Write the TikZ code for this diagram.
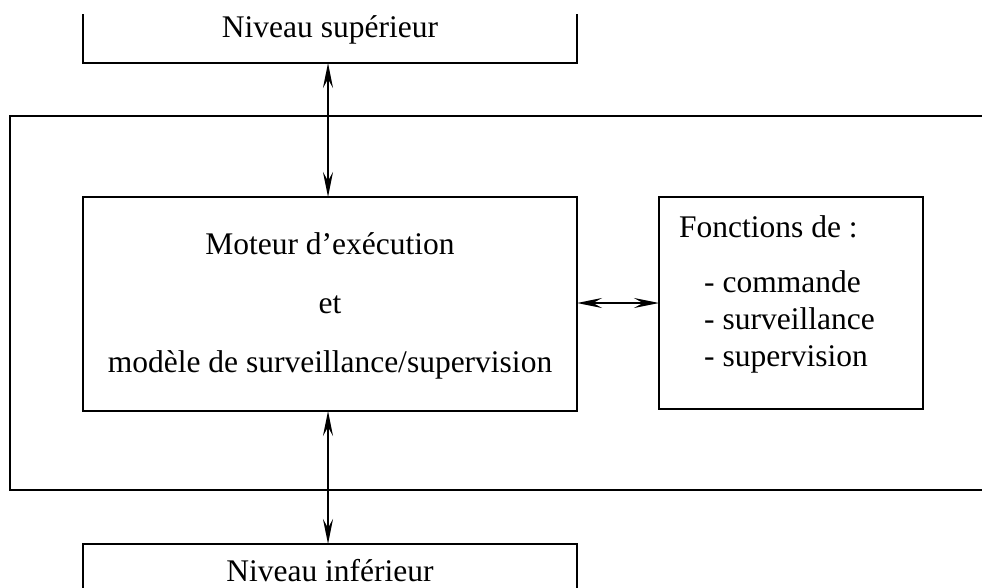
\documentclass[tikz,border=0pt]{standalone}
\usepackage{fontspec}
\setmainfont{Liberation Serif}
\usetikzlibrary{arrows.meta}
\begin{document}
\begin{tikzpicture}[x=1pt,y=-1pt,
  frame/.style={line width=1.8pt, line cap=rect},
  boxnode/.style={draw, line width=1.8pt, inner sep=0pt, outer sep=0pt},
  ghost/.style={inner sep=0pt, outer sep=0pt},
  link/.style={line width=1.6pt,
    {Stealth[length=25pt,width=10pt,inset=9pt]}-{Stealth[length=25pt,width=10pt,inset=9pt]}},
  lbl/.style={inner sep=0pt, font=\fontsize{31.5}{37}\selectfont}]
\useasboundingbox (0,0) rectangle (982,588);
\fill[white] (0,0) rectangle (982,588);

% upper level box (open at top)
\node[ghost, minimum width=494pt, minimum height=48pt] (top) at (330,39) {};
\draw[frame] (top.north west) -- (top.south west) -- (top.south east) -- (top.north east);
\node[lbl, anchor=base] (toptext) at (330,38) {Niveau supérieur};

% large enclosing frame (open at right)
\node[ghost, minimum width=972pt, minimum height=374pt] (outer) at (496,303) {};
\draw[frame] (outer.north east) -- (outer.north west) -- (outer.south west) -- (outer.south east);

% execution engine box
\node[boxnode, minimum width=494pt, minimum height=214pt] (mid) at (330,304) {};
\node[lbl, align=center, font=\fontsize{31.5}{59}\selectfont] (midtext) at (330,306)
  {Moteur d’exécution\\et\\modèle de surveillance/supervision};

% functions box
\node[boxnode, minimum width=264pt, minimum height=212pt] (fbox) at (791,303) {};
\node[lbl, anchor=base west] (f0) at (679,237) {Fonctions de :};
\node[lbl, anchor=base west] (f1) at (704,292) {- commande};
\node[lbl, anchor=base west] (f2) at (704,329) {- surveillance};
\node[lbl, anchor=base west] (f3) at (704,366) {- supervision};

% lower level box (open at bottom)
\node[ghost, minimum width=494pt, minimum height=46pt] (bot) at (330,567) {};
\draw[frame] (bot.south west) -- (bot.north west) -- (bot.north east) -- (bot.south east);
\node[lbl, anchor=base] (bottext) at (330,581) {Niveau inférieur};

% connectors
\draw[link] ([xshift=-2pt]top.south) -- ([xshift=-2pt]mid.north);
\draw[link] ([xshift=-2pt]mid.south) -- ([xshift=-2pt]bot.north);
\draw[link] (mid.east |- fbox.west) -- (fbox.west);
\end{tikzpicture}
\end{document}
